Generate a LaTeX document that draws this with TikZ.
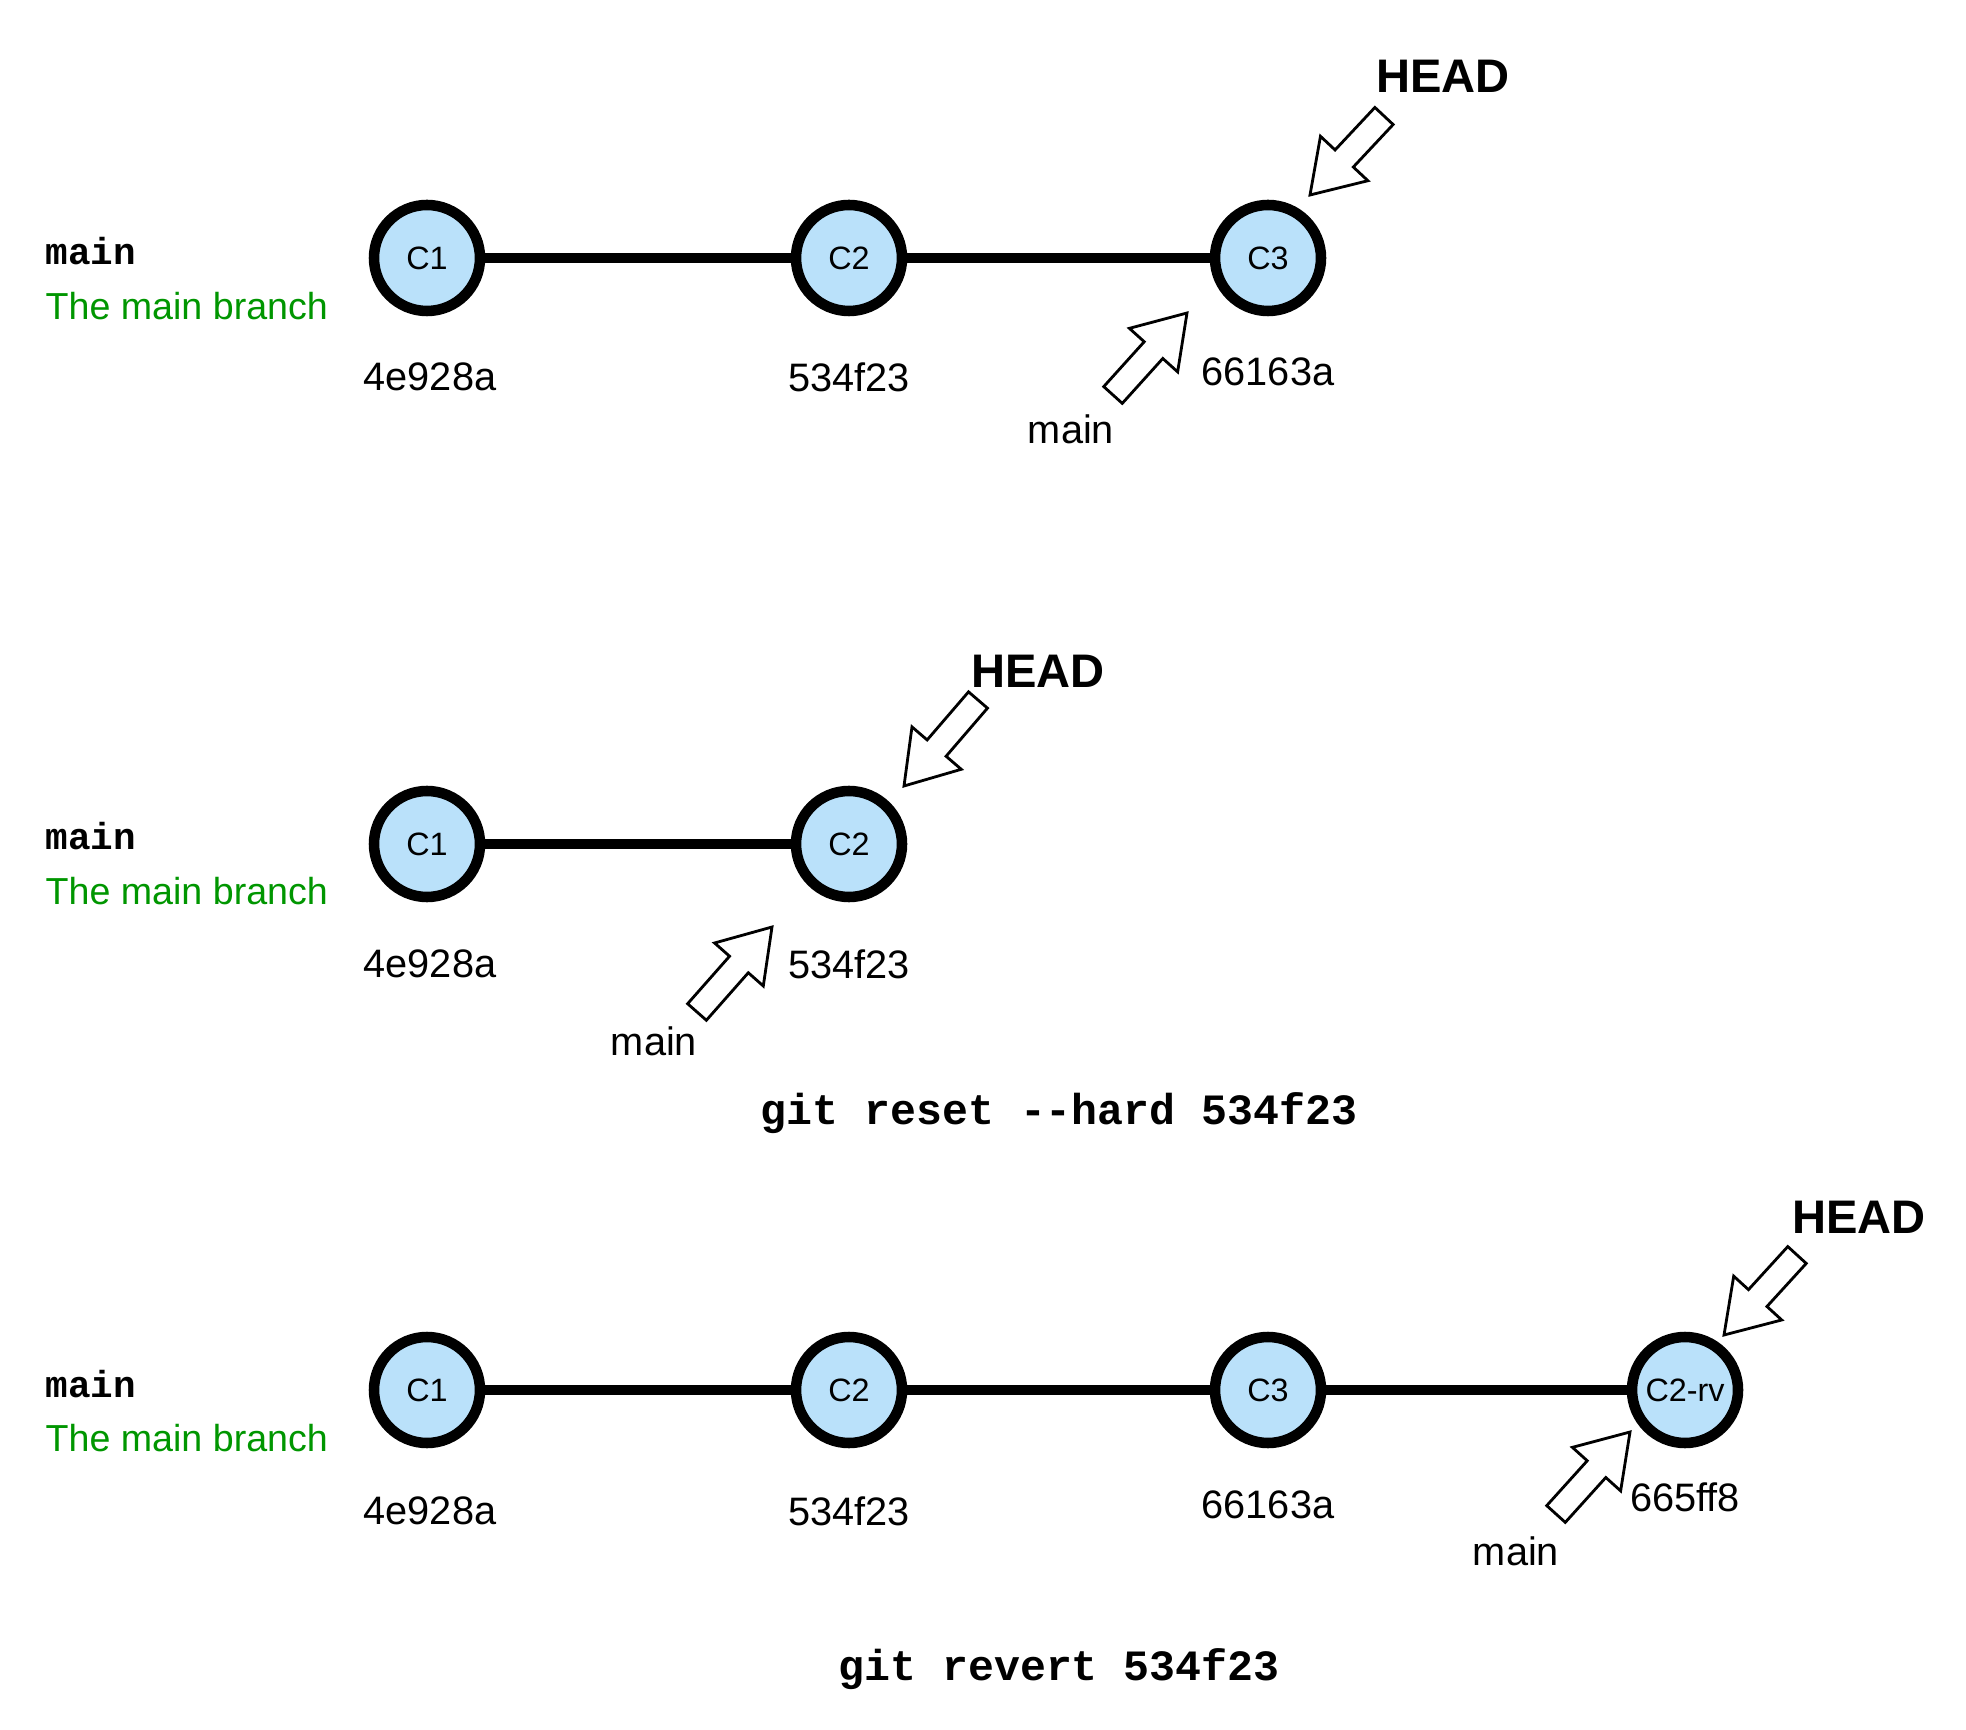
\documentclass[tikz,border=0pt]{standalone}
\usepackage{fontspec}
\setmainfont{Liberation Sans}
\setmonofont{Liberation Mono}
\usepackage{tikz}
\usetikzlibrary{calc}
\usetikzlibrary{positioning}

\definecolor{commitblue}{RGB}{186,225,250}
\definecolor{branchgreen}{RGB}{0,150,0}

\tikzset{
  commit/.style={circle, draw, line width=3pt, fill=commitblue, minimum size=1.06cm, inner sep=0pt, font=\fontsize{9.2}{11}\selectfont},
  history/.style={line width=3pt},
  hash/.style={font=\fontsize{11.3}{13}\selectfont},
  headlabel/.style={font=\bfseries\fontsize{13.4}{16}\selectfont},
  branchname/.style={anchor=west, inner sep=0pt, font=\ttfamily\bfseries\fontsize{10.7}{13}\selectfont},
  branchnote/.style={anchor=west, inner sep=0pt, text=branchgreen, font=\fontsize{10.7}{13}\selectfont},
  command/.style={font=\ttfamily\bfseries\fontsize{12.3}{14}\selectfont},
  ptr/.style={draw, fill=white, line width=0.8pt, line join=miter},
}

% hollow block arrow from #1 (tail) to #2 (tip)
\newcommand{\ptrarrow}[2]{%
  \coordinate (pb) at ($(#2)!5mm!(#1)$);
  \draw[ptr] ($(#1)!1.25mm!90:(#2)$) -- ($(pb)!1.25mm!-90:(#1)$) -- ($(pb)!3.25mm!-90:(#1)$)
    -- (#2) -- ($(pb)!3.25mm!90:(#1)$) -- ($(pb)!1.25mm!90:(#1)$) -- ($(#1)!1.25mm!-90:(#2)$) -- cycle;
}

\begin{document}
\begin{tikzpicture}
\useasboundingbox (0,0) rectangle (19.66,-17.30);

% before
\node[branchname] (b1) at (0.45,-2.51) {main};
\node[branchnote] (n1) at (0.45,-3.06) {The main branch};
\node[commit] (c1) at (4.27,-2.58) {C1};
\node[commit] (c2) at (8.49,-2.58) {C2};
\node[commit] (c3) at (12.68,-2.58) {C3};
\draw[history] (c1) -- (c2) -- (c3);
\node[hash] (c1id) at ([shift={(0.03,-1.19)}]c1) {4e928a};
\node[hash] (c2id) at ([shift={(0,-1.19)}]c2) {534f23};
\node[hash] (c3id) at ([shift={(0,-1.14)}]c3) {66163a};
\node[headlabel] (head1) at (14.43,-0.76) {HEAD};
\node[hash] (main1) at (10.71,-4.29) {main};
\coordinate (head1a) at ([shift={(1.16,1.42)}]c3);
\coordinate (head1b) at ([shift={(0.42,0.63)}]c3);
\coordinate (main1a) at ([shift={(-1.55,-1.37)}]c3);
\coordinate (main1b) at ([shift={(-0.81,-0.55)}]c3);
\ptrarrow{head1a}{head1b}
\ptrarrow{main1a}{main1b}

% after reset
\node[branchname] (b2) at (0.45,-8.36) {main};
\node[branchnote] (n2) at (0.45,-8.91) {The main branch};
\node[commit] (r1) at (4.27,-8.44) {C1};
\node[commit] (r2) at (8.49,-8.44) {C2};
\draw[history] (r1) -- (r2);
\node[hash] (r1id) at ([shift={(0.03,-1.2)}]r1) {4e928a};
\node[hash] (r2id) at ([shift={(0,-1.2)}]r2) {534f23};
\node[headlabel] (head2) at (10.38,-6.71) {HEAD};
\node[hash] (main2) at (6.54,-10.41) {main};
\coordinate (head2a) at ([shift={(1.29,1.44)}]r2);
\coordinate (head2b) at ([shift={(0.55,0.58)}]r2);
\coordinate (main2a) at ([shift={(-1.52,-1.68)}]r2);
\coordinate (main2b) at ([shift={(-0.77,-0.83)}]r2);
\ptrarrow{head2a}{head2b}
\ptrarrow{main2a}{main2b}
\node[command] (cmd1) at (10.59,-11.13) {git reset --hard 534f23};

% after revert
\node[branchname] (b3) at (0.45,-13.84) {main};
\node[branchnote] (n3) at (0.45,-14.38) {The main branch};
\node[commit] (v1) at (4.27,-13.90) {C1};
\node[commit] (v2) at (8.49,-13.90) {C2};
\node[commit] (v3) at (12.68,-13.90) {C3};
\node[commit] (v4) at (16.85,-13.90) {C2-rv};
\draw[history] (v1) -- (v2) -- (v3) -- (v4);
\node[hash] (v1id) at ([shift={(0.03,-1.21)}]v1) {4e928a};
\node[hash] (v2id) at ([shift={(0,-1.21)}]v2) {534f23};
\node[hash] (v3id) at ([shift={(0,-1.15)}]v3) {66163a};
\node[hash] (v4id) at ([shift={(0,-1.07)}]v4) {665ff8};
\node[headlabel] (head3) at (18.59,-12.17) {HEAD};
\node[hash] (main3) at (15.16,-15.51) {main};
\coordinate (head3a) at ([shift={(1.12,1.35)}]v4);
\coordinate (head3b) at ([shift={(0.39,0.55)}]v4);
\coordinate (main3a) at ([shift={(-1.29,-1.24)}]v4);
\coordinate (main3b) at ([shift={(-0.55,-0.42)}]v4);
\ptrarrow{head3a}{head3b}
\ptrarrow{main3a}{main3b}
\node[command] (cmd2) at (10.59,-16.69) {git revert 534f23};
\end{tikzpicture}
\end{document}
